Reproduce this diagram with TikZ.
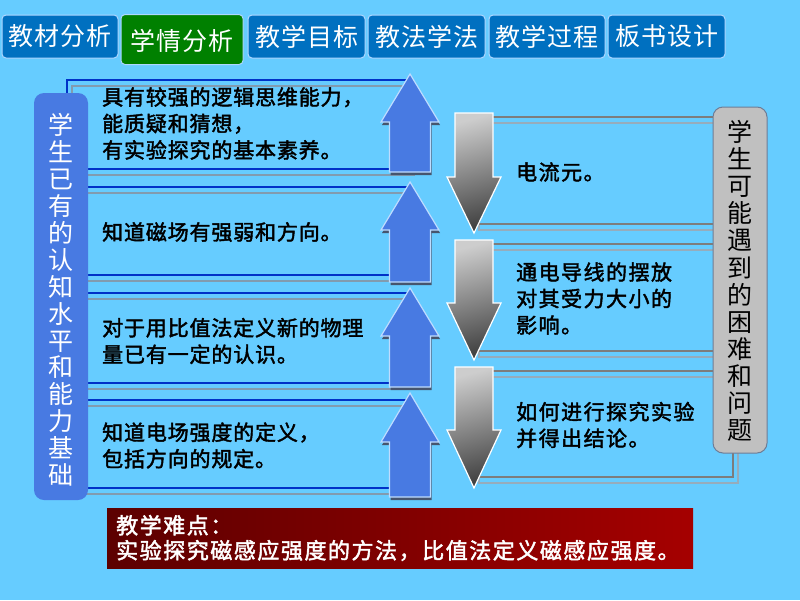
\documentclass[tikz,border=0pt]{standalone}
\usepackage{fontspec}
\setmainfont{Noto Sans CJK SC}
\newfontfamily\rowfont[FakeBold=2,LetterSpace=4]{Noto Sans CJK SC}
\newfontfamily\rightfont[FakeBold=2,LetterSpace=7]{Noto Sans CJK SC}
\newfontfamily\tabfont[LetterSpace=4]{Noto Sans CJK SC}
\newfontfamily\noteFont[FakeBold=2,LetterSpace=7]{Noto Sans CJK SC}
\definecolor{bg}{RGB}{102,204,255}
\definecolor{tabblue}{RGB}{0,112,192}
\definecolor{tabgreen}{RGB}{0,128,0}
\definecolor{tabedge}{RGB}{175,215,255}
\definecolor{boxblue}{RGB}{72,122,226}
\definecolor{arrowedge}{RGB}{190,220,255}
\definecolor{arrowshadow}{RGB}{70,85,110}
\definecolor{lineblue}{RGB}{0,50,200}
\definecolor{shadowgrey}{RGB}{130,155,175}
\definecolor{rowgrey}{RGB}{125,125,125}
\definecolor{rowshadow}{RGB}{150,172,188}
\definecolor{greybox}{RGB}{192,192,192}
\definecolor{greyboxedge}{RGB}{110,125,150}
\definecolor{darkred}{RGB}{92,0,0}
\definecolor{brightred}{RGB}{165,0,0}
\newcommand\myuparrow[4]{% name, tip y, base y, bottom y
  \fill[arrowshadow] (411,#2+3) -- (440,#3+3) -- (431.5,#3+3) -- (431.5,#4+3) -- (390.5,#4+3) -- (390.5,#3+3) -- (382,#3+3) -- cycle;
  \draw[fill=boxblue, draw=arrowedge, line width=1.2pt] (410,#2) -- (439,#3) -- (430.5,#3) -- (430.5,#4) -- (389.5,#4) -- (389.5,#3) -- (381,#3) -- cycle;
  \coordinate (#1) at (410,#3);}
\newcommand\mydownarrow[4]{% name, top y, base y, tip y
  \shadedraw[draw=white, line width=1.2pt, top color={rgb,255:red,205;green,205;blue,205}, bottom color={rgb,255:red,65;green,65;blue,65}, shading angle=15]
    (455,#2) -- (493,#2) -- (493,#3) -- (501,#3) -- (474,#4) -- (447,#3) -- (455,#3) -- cycle;
  \coordinate (#1) at (474,#3);}
\tikzset{
  tab/.style={rounded corners=4pt, fill=tabblue, draw=tabedge, line width=1pt, text=white,
    font=\tabfont\fontsize{25}{25}\selectfont, inner sep=0pt, minimum height=43pt},
  rowtxt/.style={anchor=west, align=left, inner sep=0pt, font=\rowfont\fontsize{21}{26.5}\selectfont},
  righttxt/.style={anchor=west, align=left, inner sep=0pt, font=\rightfont\fontsize{21}{26.5}\selectfont},
  leftrow/.style={lineblue, line width=2.5pt},
  leftrowshadow/.style={shadowgrey, line width=2.5pt},
  rightrow/.style={rowgrey, line width=2.5pt},
  rightrowshadow/.style={rowshadow, line width=2.5pt},
}
\begin{document}
\begin{tikzpicture}[x=1pt,y=-1pt]
\fill[bg] (0,0) rectangle (800,600);
\useasboundingbox (0,0) rectangle (800,600);

% tabs
\node[tab, minimum width=116pt] (t1) at (60,36.5) {教材分析};
\node[tab, fill=tabgreen, minimum width=122pt, minimum height=50pt, text depth=-3pt] (t2) at (182,39.5) {学情分析};
\node[tab, minimum width=117pt] (t3) at (306.5,36.5) {教学目标};
\node[tab, minimum width=117pt] (t4) at (426.5,36.5) {教法学法};
\node[tab, minimum width=116pt] (t5) at (547,36.5) {教学过程};
\node[tab, minimum width=117pt] (t6) at (666.5,36.5) {板书设计};

% left rows
\foreach \t/\b in {80/169,187/275,293/383,400/488}{
  \draw[leftrowshadow] (72,\t+6) rectangle (414,\b+6);
  \draw[leftrow] (67,\t) rectangle (409,\b);
}
% right rows
\foreach \t/\b in {117/224,244/351,371/477}{
  \draw[rightrowshadow] (479,\t+6) rectangle (738,\b+6);
  \draw[rightrow] (474,\t) rectangle (733,\b);
}

% left box
\node[fill=boxblue, rounded corners=10pt, minimum width=54pt, minimum height=407pt, inner sep=0pt] (lbox) at (61,296.5) {};
\node[align=center, inner sep=0pt, text=white, font=\fontsize{25}{26.9}\selectfont] (ltext) at (61,300)
  {学\\生\\已\\有\\的\\认\\知\\水\\平\\和\\能\\力\\基\\础};

% right box
\node[fill=greybox, draw=greyboxedge, line width=1pt, rounded corners=10pt, minimum width=54pt, minimum height=346pt, inner sep=0pt] (rbox) at (740,280) {};
\node[align=center, inner sep=0pt, text=black, font=\fontsize{25}{27.1}\selectfont] (rtext) at (740,281)
  {学\\生\\可\\能\\遇\\到\\的\\困\\难\\和\\问\\题};

% arrows
\myuparrow{ua1}{74}{122}{172}
\myuparrow{ua2}{182}{230}{282}
\myuparrow{ua3}{288}{336}{387}
\myuparrow{ua4}{393}{442}{497}
\mydownarrow{da1}{113}{177}{233}
\mydownarrow{da2}{240}{303}{360}
\mydownarrow{da3}{367}{430}{488}

% left texts
\node[rowtxt] (l1) at (102,123.5) {具有较强的逻辑思维能力，\\能质疑和猜想，\\有实验探究的基本素养。};
\node[rowtxt] (l2) at (102,232) {知道磁场有强弱和方向。};
\node[rowtxt] (l3) at (102,341) {对于用比值法定义新的物理\\量已有一定的认识。};
\node[rowtxt] (l4) at (102,445.5) {知道电场强度的定义，\\包括方向的规定。};

% right texts
\node[righttxt] (r1) at (516,172) {电流元。};
\node[righttxt] (r2) at (516,298.5) {通电导线的摆放\\对其受力大小的\\影响。};
\node[righttxt] (r3) at (516,425) {如何进行探究实验\\并得出结论。};

% bottom note
\shade[left color=darkred, right color=brightred] (107,508) rectangle (693,568);
\node[anchor=west, align=left, inner sep=0pt, text=white, font=\noteFont\fontsize{22}{25}\selectfont] (note) at (116,538)
  {教学难点：\\实验探究磁感应强度的方法，比值法定义磁感应强度。};
\end{tikzpicture}
\end{document}
